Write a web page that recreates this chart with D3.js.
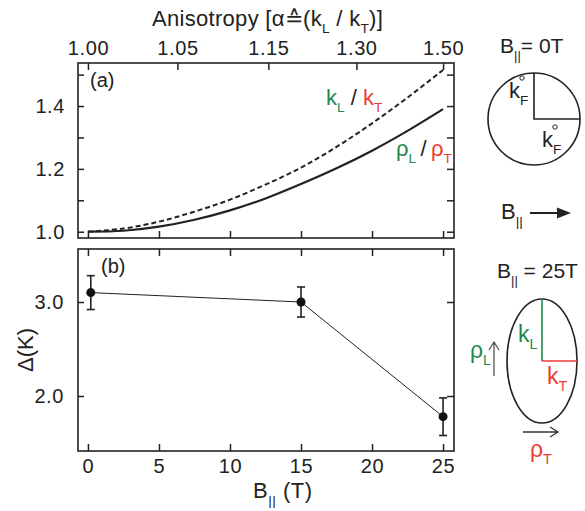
<!DOCTYPE html>
<html>
<head>
<meta charset="utf-8">
<script src="https://cdn.jsdelivr.net/npm/d3@7"></script>
<style>
  body { margin: 0; background: #fff; }
  svg text { font-family: "Liberation Sans", Arial, sans-serif; fill: #222; }
</style>
</head>
<body>
<div id="chart"></div>
<script>
// field values (T) where the two ratio curves were read
const fieldGrid = [0, 2.5, 5, 7.5, 10, 12.5, 15, 17.5, 20, 22.5, 25];
// k_L / k_T (dashed) and rho_L / rho_T (solid)
const kRatio = [1.000, 1.010, 1.032, 1.064, 1.102, 1.150, 1.204, 1.270, 1.345, 1.427, 1.515];
const rhoRatio = [1.000, 1.003, 1.016, 1.038, 1.068, 1.106, 1.152, 1.202, 1.258, 1.321, 1.390];

// gap measurements, panel (b)
const gapField = [0.2, 15, 25];
const gapValue = [3.10, 3.00, 1.78];
const gapError = [0.18, 0.16, 0.20];

// axis ticks
const fieldTicks = [0, 5, 10, 15, 20, 25];
const anisoLabels = ['1.00', '1.05', '1.15', '1.30', '1.50'];
const anisoField = [0, 6.3, 12.7, 18.9, 25];
const ratioTicks = [1.0, 1.1, 1.2, 1.3, 1.4, 1.5];
const ratioLabels = [1.0, 1.2, 1.4];
const gapTicks = [2.0, 3.0];

const green = '#1d8a4c', red = '#ee3a36', ink = '#222';

let svg = d3.select('#chart').append('svg')
    .attr('width', 585)
    .attr('height', 511);

// Scales
let x = d3.scaleLinear().domain([-0.7, 25.77]).range([78, 454]);
let yTop = d3.scaleLinear().domain([0.98, 1.537]).range([238, 63]);
let yBot = d3.scaleLinear().domain([1.415, 3.564]).range([451, 249]);

// adds text made of [string, isSub, colour] pieces
function richText(g, px, py, parts, size, color) {
    let t = g.append('text')
        .attr('x', px)
        .attr('y', py)
        .style('font-size', size + 'px');
    let shifted = false;
    parts.forEach((p) => {
        let sub = p[1];
        let span = t.append('tspan').text(p[0]);
        if (p[2]) span.style('fill', p[2]);
        else if (color) span.style('fill', color);
        if (sub && !shifted) { span.attr('dy', size * 0.32).style('font-size', (size * 0.62) + 'px'); shifted = true; }
        else if (!sub && shifted) { span.attr('dy', -size * 0.32); shifted = false; }
        else if (sub) span.style('font-size', (size * 0.62) + 'px');
    });
    return t;
}

function styleAxis(g) {
    g.select('.domain').remove();
    g.selectAll('line').attr('stroke', ink).attr('stroke-width', 1.5);
    g.selectAll('text')
        .style('font-size', '20px')
        .style('font-family', '"Liberation Sans", Arial, sans-serif')
        .style('letter-spacing', '0.6px')
        .attr('fill', ink);
}

// ****************** panel (a) ***************************
let pa = svg.append('g');

pa.append('g')
    .attr('transform', `translate(0,${yTop.range()[0]})`)
    .call(d3.axisBottom(x).tickValues(fieldTicks).tickSize(-7).tickFormat(''))
    .call(styleAxis);

pa.append('g')
    .attr('transform', `translate(0,${yTop.range()[1]})`)
    .call(d3.axisTop(x).tickValues(anisoField).tickSize(-7).tickPadding(8)
        .tickFormat((d, i) => anisoLabels[i]))
    .call(styleAxis);

pa.append('g')
    .attr('transform', `translate(${x.range()[0]},0)`)
    .call(d3.axisLeft(yTop).tickValues(ratioTicks).tickSize(-6).tickPadding(13)
        .tickFormat((d) => ratioLabels.includes(d) ? d3.format('.1f')(d) : ''))
    .call(styleAxis);

pa.append('g')
    .attr('transform', `translate(${x.range()[1]},0)`)
    .call(d3.axisRight(yTop).tickValues(ratioTicks).tickSize(-7).tickFormat(''))
    .call(styleAxis);

pa.append('rect')
    .attr('x', x.range()[0]).attr('y', yTop.range()[1])
    .attr('width', x.range()[1] - x.range()[0])
    .attr('height', yTop.range()[0] - yTop.range()[1])
    .attr('fill', 'none').attr('stroke', ink).attr('stroke-width', 1.6);

let line = (vals) => d3.line()
    .x((d, i) => x(fieldGrid[i]))
    .y((d) => yTop(d))
    .curve(d3.curveCatmullRom)(vals);

pa.append('path')
    .attr('d', line(kRatio))
    .attr('fill', 'none').attr('stroke', ink)
    .attr('stroke-width', 2).attr('stroke-dasharray', '5,3');

pa.append('path')
    .attr('d', line(rhoRatio))
    .attr('fill', 'none').attr('stroke', ink)
    .attr('stroke-width', 2.2);

richText(pa, 90, 87, [['(a)']], 20);
richText(pa, 326, 105, [['k', false, green], ['L', true, green], [' / ', false], ['k', false, red], ['T', true, red]], 22);
richText(pa, 396, 156, [['ρ', false, green], ['L', true, green], ['\u2009/\u2009', false], ['ρ', false, red], ['T', true, red]], 22);

// top title
richText(svg, 152, 26, [['Anisotropy [α'], ['≙'], ['(k'], ['L', true], [' / k'], ['T', true], [')]']], 22)
    .style('letter-spacing', '0.3px');

// ****************** panel (b) ***************************
let pb = svg.append('g');

pb.append('g')
    .attr('transform', `translate(0,${yBot.range()[0]})`)
    .call(d3.axisBottom(x).tickValues(fieldTicks).tickSize(-7).tickPadding(8))
    .call(styleAxis);

pb.append('g')
    .attr('transform', `translate(0,${yBot.range()[1]})`)
    .call(d3.axisTop(x).tickValues(fieldTicks).tickSize(-7).tickFormat(''))
    .call(styleAxis);

pb.append('g')
    .attr('transform', `translate(${x.range()[0]},0)`)
    .call(d3.axisLeft(yBot).tickValues(gapTicks).tickSize(-6).tickPadding(14)
        .tickFormat(d3.format('.1f')))
    .call(styleAxis);

pb.append('g')
    .attr('transform', `translate(${x.range()[1]},0)`)
    .call(d3.axisRight(yBot).tickValues(gapTicks).tickSize(-7).tickFormat(''))
    .call(styleAxis);

pb.append('rect')
    .attr('x', x.range()[0]).attr('y', yBot.range()[1])
    .attr('width', x.range()[1] - x.range()[0])
    .attr('height', yBot.range()[0] - yBot.range()[1])
    .attr('fill', 'none').attr('stroke', ink).attr('stroke-width', 1.6);

pb.append('path')
    .attr('d', d3.line().x((d, i) => x(gapField[i])).y((d) => yBot(d))(gapValue))
    .attr('fill', 'none').attr('stroke', ink).attr('stroke-width', 1);

let pts = pb.selectAll('g.pt')
    .data(gapValue)
    .enter().append('g').attr('class', 'pt');

pts.append('line')
    .attr('x1', (d, i) => x(gapField[i])).attr('x2', (d, i) => x(gapField[i]))
    .attr('y1', (d, i) => yBot(d - gapError[i])).attr('y2', (d, i) => yBot(d + gapError[i]))
    .attr('stroke', ink).attr('stroke-width', 1.6);
[-1, 1].forEach((s) => {
    pts.append('line')
        .attr('x1', (d, i) => x(gapField[i]) - 4).attr('x2', (d, i) => x(gapField[i]) + 4)
        .attr('y1', (d, i) => yBot(d + s * gapError[i])).attr('y2', (d, i) => yBot(d + s * gapError[i]))
        .attr('stroke', ink).attr('stroke-width', 1.6);
});
pts.append('circle')
    .attr('cx', (d, i) => x(gapField[i])).attr('cy', (d) => yBot(d))
    .attr('r', 4.5).attr('fill', '#111');

richText(pb, 101, 273, [['(b)']], 20);

// axis titles
richText(svg, 253, 498, [['B'], ['||', true], [' (T)']], 22).style('letter-spacing', '0.5px');
svg.append('text')
    .attr('transform', 'translate(33,350) rotate(-90)')
    .attr('text-anchor', 'middle')
    .style('font-size', '22px')
    .text('Δ(K)');

// ****************** schematics ***************************
let sk = svg.append('g');

richText(sk, 500, 53, [['B'], ['||', true], ['= 0T']], 21);
sk.append('circle').attr('cx', 534).attr('cy', 119).attr('r', 46)
    .attr('fill', 'none').attr('stroke', ink).attr('stroke-width', 1.6);
sk.append('path').attr('d', 'M534,73V119H580')
    .attr('fill', 'none').attr('stroke', ink).attr('stroke-width', 1.6);
richText(sk, 509, 98, [['k'], ['F', true]], 22);
richText(sk, 542, 147, [['k'], ['F', true]], 22);
sk.append('circle').attr('cx', 522).attr('cy', 78).attr('r', 2.2)
    .attr('fill', 'none').attr('stroke', ink).attr('stroke-width', 1);
sk.append('circle').attr('cx', 555).attr('cy', 127).attr('r', 2.2)
    .attr('fill', 'none').attr('stroke', ink).attr('stroke-width', 1);

richText(sk, 501, 219, [['B'], ['||', true]], 22);
sk.append('line').attr('x1', 530).attr('x2', 560).attr('y1', 213).attr('y2', 213)
    .attr('stroke', ink).attr('stroke-width', 2);
sk.append('path').attr('d', 'M571,213L557,207.5V218.5Z').attr('fill', ink);

richText(sk, 497, 278, [['B'], ['||', true], [' = 25T']], 21);
sk.append('ellipse').attr('cx', 542).attr('cy', 361).attr('rx', 35).attr('ry', 62)
    .attr('fill', 'none').attr('stroke', ink).attr('stroke-width', 1.6);
sk.append('line').attr('x1', 542).attr('x2', 542).attr('y1', 299).attr('y2', 361)
    .attr('stroke', green).attr('stroke-width', 1.6);
sk.append('line').attr('x1', 542).attr('x2', 577).attr('y1', 361).attr('y2', 361)
    .attr('stroke', red).attr('stroke-width', 1.6);
richText(sk, 518, 342, [['k', false, green], ['L', true, green]], 23);
richText(sk, 547, 384, [['k', false, red], ['T', true, red]], 23);
richText(sk, 470, 358, [['ρ', false, green], ['L', true, green]], 23);
richText(sk, 530, 457, [['ρ', false, red], ['T', true, red]], 23);

sk.append('path').attr('d', 'M494,376V342M489,350L494,342L499,350')
    .attr('fill', 'none').attr('stroke', '#555').attr('stroke-width', 1.3);
sk.append('path').attr('d', 'M523,432H558M550,427L558,432L550,437')
    .attr('fill', 'none').attr('stroke', '#333').attr('stroke-width', 1.3);
</script>
</body>
</html>
